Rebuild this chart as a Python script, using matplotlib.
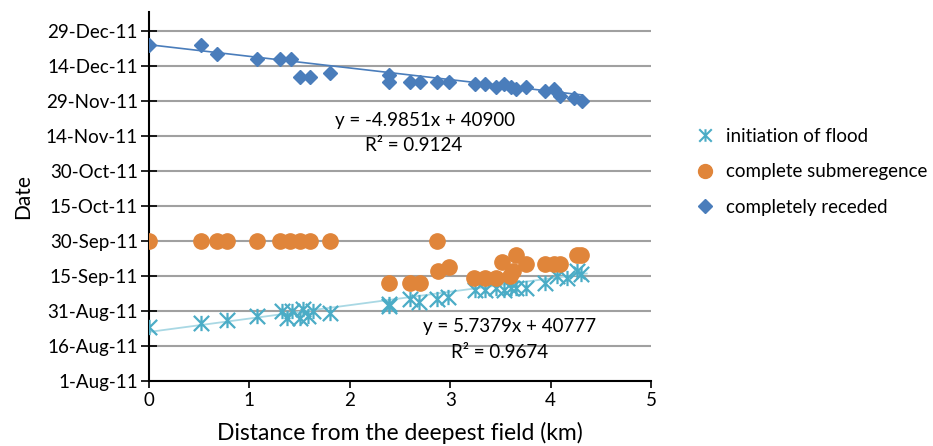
import matplotlib
matplotlib.use("Agg")
import matplotlib.pyplot as plt
import numpy as np
import pandas as pd
from matplotlib.path import Path
from matplotlib.lines import Line2D

plt.rcParams['font.family'] = ['Lato', 'DejaVu Sans']

# ---------------- data (Excel date serials) ----------------
x_initiation = [0, 0.52, 0.78, 1.08, 1.32, 1.37, 1.42, 1.50, 1.53, 1.58, 1.63, 1.80,
                2.39, 2.39, 2.60, 2.69, 2.87, 2.98, 3.25, 3.35, 3.46, 3.54, 3.61,
                3.66, 3.75, 3.94, 4.06, 4.16, 4.26, 4.30]
d_initiation = [40779, 40781, 40782, 40784, 40786, 40783, 40786, 40783, 40787, 40784,
                40786, 40785, 40789, 40788, 40791, 40790, 40791, 40792, 40795, 40795,
                40796, 40795, 40796, 40796, 40796, 40798, 40801, 40800, 40803, 40802]

x_submergence = [0, 0.52, 0.68, 0.78, 1.08, 1.30, 1.40, 1.50, 1.60, 1.80, 2.39, 2.60,
                 2.70, 2.87, 2.88, 2.99, 3.24, 3.35, 3.46, 3.52, 3.60, 3.63, 3.66,
                 3.75, 3.94, 4.03, 4.09, 4.26, 4.30]
d_submergence = [40816, 40816, 40816, 40816, 40816, 40816, 40816, 40816, 40816, 40816,
                 40798, 40798, 40798, 40816, 40803, 40805, 40800, 40800, 40800, 40807,
                 40801, 40803, 40810, 40806, 40806, 40806, 40806, 40810, 40810]

x_receded = [0, 0.52, 0.68, 1.08, 1.30, 1.41, 1.50, 1.60, 1.80, 2.39, 2.39, 2.60, 2.70,
             2.87, 2.99, 3.25, 3.35, 3.46, 3.54, 3.61, 3.66, 3.75, 3.94, 4.03, 4.09,
             4.23, 4.31]
d_receded = [40900, 40900, 40896, 40894, 40894, 40894, 40886, 40886, 40888, 40887,
             40884, 40884, 40884, 40884, 40884, 40883, 40883, 40882, 40883, 40882,
             40881, 40882, 40880, 40881, 40878, 40877, 40876]

# trendline coefficients (slope, intercept) as labelled
trend_initiation = (5.7379, 40777)
trend_receded = (-4.9851, 40900)

y_tick_labels = ['1-Aug-11', '16-Aug-11', '31-Aug-11', '15-Sep-11', '30-Sep-11',
                 '15-Oct-11', '30-Oct-11', '14-Nov-11', '29-Nov-11', '14-Dec-11',
                 '29-Dec-11']
x_ticks = [0, 1, 2, 3, 4, 5]

series_labels = ['initiation of flood', 'complete submeregence', 'completely receded']

# ---------------- helpers ----------------
origin = pd.Timestamp('1899-12-30')
y_tick_pos = [(pd.to_datetime(s, format='%d-%b-%y') - origin).days for s in y_tick_labels]

star = Path([(-1, -1), (1, 1), (-1, 1), (1, -1), (0, -1), (0, 1)],
            [Path.MOVETO, Path.LINETO, Path.MOVETO, Path.LINETO, Path.MOVETO, Path.LINETO])

c_cyan = '#4bacc6'
c_orange = '#e0853a'
c_blue = '#4a7dbb'

FS = 13.5

fig = plt.figure(figsize=(9.33, 4.46), dpi=100)
ax = fig.add_axes([149/933, 1-381/446, (651-149)/933, (381-12)/446])

# trendlines
xi = np.array([min(x_initiation), max(x_initiation) + 0.06])
ax.plot(xi, trend_initiation[0]*xi + trend_initiation[1], color='#a9d8e4', lw=1.3, zorder=2)
xr = np.array([min(x_receded), max(x_receded)])
ax.plot(xr, trend_receded[0]*xr + trend_receded[1], color=c_blue, lw=1.2, zorder=2)

ax.plot(x_initiation, d_initiation, ls='none', marker=star, markersize=11,
        markeredgewidth=1.6, color=c_cyan, zorder=3)
ax.plot(x_submergence, d_submergence, ls='none', marker='o', markersize=11,
        color=c_orange, markeredgecolor=c_orange, zorder=4)
ax.plot(x_receded, d_receded, ls='none', marker='D', markersize=7.5,
        color=c_blue, markeredgecolor=c_blue, zorder=5)

ax.set_xlim(0, 5)
ax.set_ylim(y_tick_pos[0], y_tick_pos[-1] + 8)
ax.set_xticks(x_ticks)
ax.set_xticklabels([str(v) for v in x_ticks])
ax.set_yticks(y_tick_pos)
ax.set_yticklabels(y_tick_labels)
ax.yaxis.grid(True, color='#a0a0a0', lw=1.5)
ax.set_axisbelow(True)
for s in ['top', 'right']:
    ax.spines[s].set_visible(False)
for s in ['left', 'bottom']:
    ax.spines[s].set_linewidth(1.5)
    ax.spines[s].set_color('black')
ax.tick_params(axis='y', direction='inout', length=12, width=1.2, labelsize=FS, pad=2)
ax.tick_params(axis='x', direction='out', length=5, width=1.2, labelsize=FS, pad=3)

ax.set_xlabel('Distance from the deepest field (km)', fontsize=16.5, labelpad=9)
ax.set_ylabel('Date', fontsize=15, labelpad=9)

def xpix(p):
    return (p - 149) / 502 * 5

def ypix(p):
    return 40906 - (p - 30) / 2.34

ax.text(xpix(425), ypix(120), 'y = -4.9851x + 40900', ha='center', va='center', fontsize=FS)
ax.text(xpix(414), ypix(145), 'R² = 0.9124', ha='center', va='center', fontsize=FS)
ax.text(xpix(510), ypix(326), 'y = 5.7379x + 40777', ha='center', va='center', fontsize=FS)
ax.text(xpix(500), ypix(352), 'R² = 0.9674', ha='center', va='center', fontsize=FS)

handles = [
    Line2D([], [], ls='none', marker=star, markersize=9, markeredgewidth=1.5, color=c_cyan),
    Line2D([], [], ls='none', marker='o', markersize=10, color=c_orange),
    Line2D([], [], ls='none', marker='D', markersize=7, color=c_blue),
]
fig.legend(handles, series_labels, loc='upper left', bbox_to_anchor=(688/933, 1-120/446),
           frameon=False, fontsize=FS, handlelength=1.0, handletextpad=0.6,
           labelspacing=1.0, borderaxespad=0)

fig.savefig('out.png', dpi=100)
